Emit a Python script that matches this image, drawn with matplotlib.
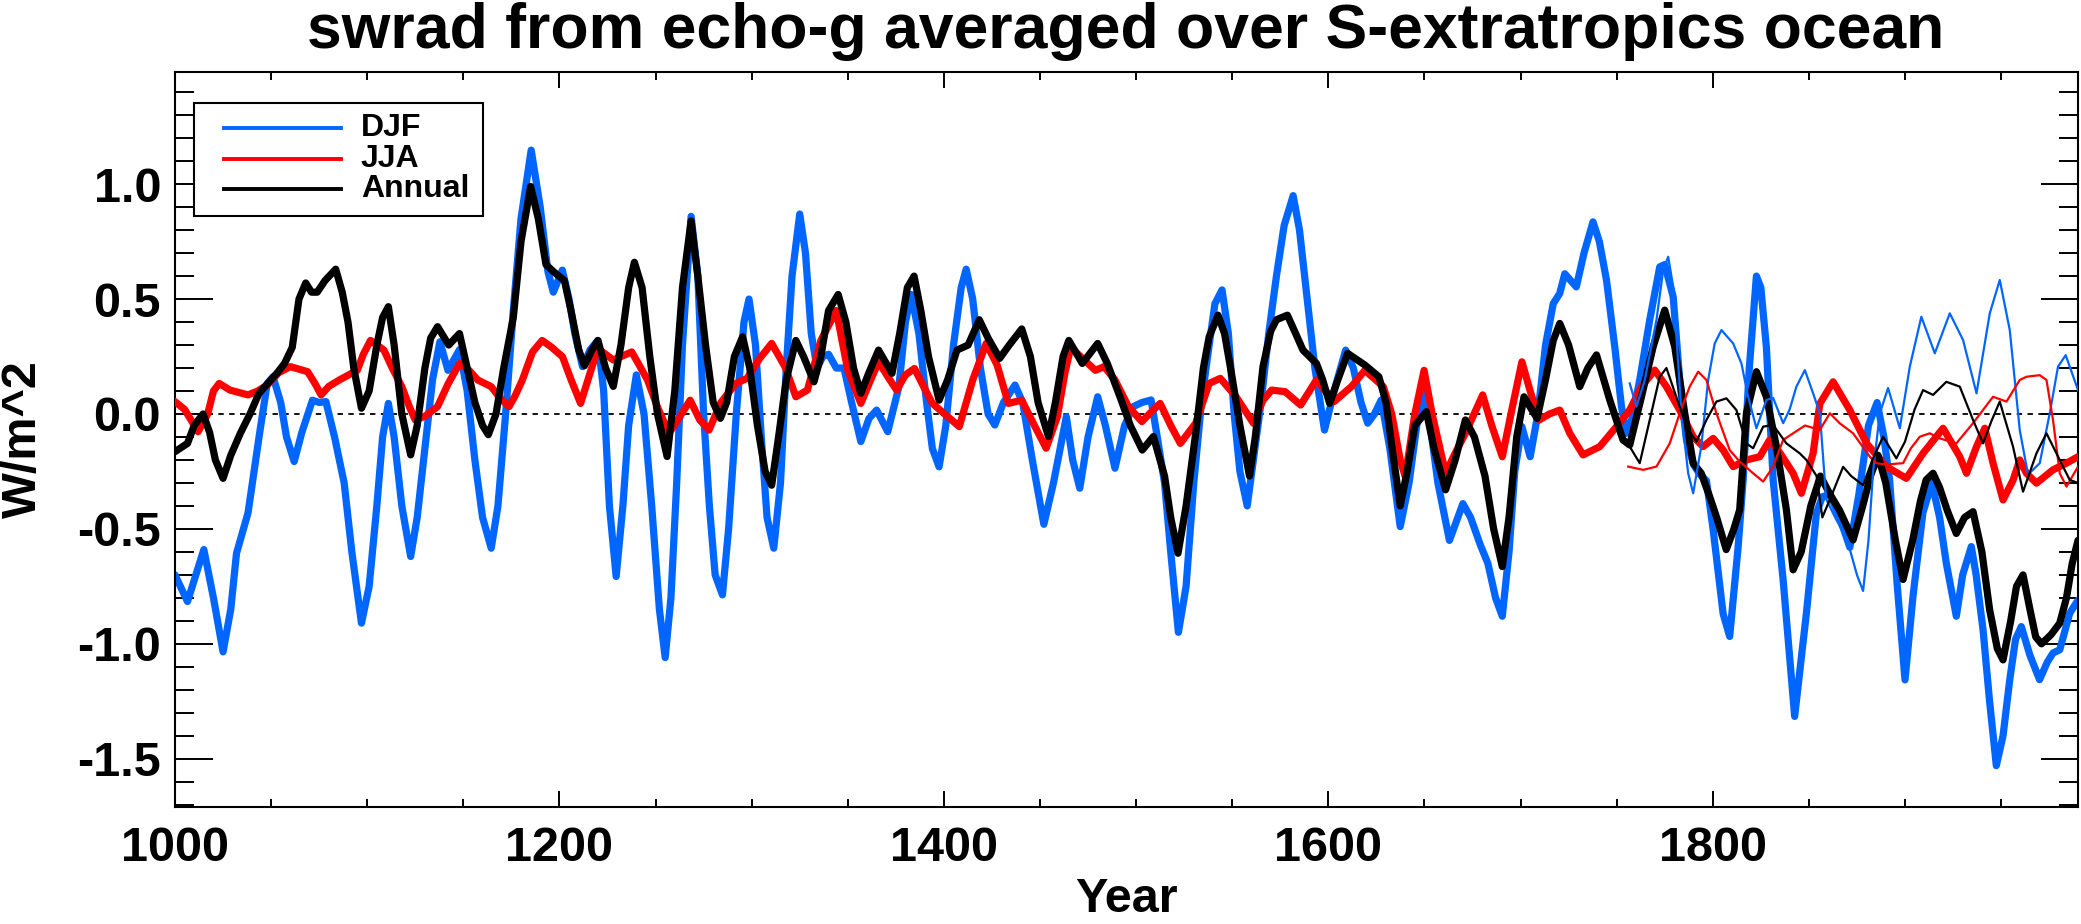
import numpy as np
import matplotlib
matplotlib.use('Agg')
import matplotlib.pyplot as plt
from matplotlib.ticker import MultipleLocator, FormatStrFormatter
from matplotlib.patches import Rectangle

plt.rcParams['font.family'] = ['Liberation Sans', 'DejaVu Sans']
plt.rcParams['font.weight'] = 'bold'

# thick curves: full run 1000-1990
djf_years = [1000, 1006.5, 1015, 1020, 1025, 1029, 1032, 1038, 1044, 1048, 1051, 1055, 1058, 1062, 1066, 1071.5, 1075, 1078.5, 1083, 1088, 1092, 1097, 1101, 1105, 1108, 1111, 1114, 1118, 1122.6, 1126, 1130, 1134, 1137.8, 1142, 1148, 1152, 1156, 1160, 1164.5, 1168, 1172, 1176, 1180, 1185.3, 1190, 1194, 1196.8, 1201.5, 1205, 1208, 1212, 1216, 1220, 1223, 1226, 1229.5, 1233, 1236, 1240, 1244, 1248, 1252, 1255, 1258, 1261, 1264, 1268.5, 1272, 1275, 1278, 1281, 1284.8, 1288, 1292, 1296, 1298.6, 1302, 1305, 1308, 1311.5, 1315, 1318, 1321, 1325, 1328, 1331, 1334, 1337, 1340, 1344, 1348, 1352, 1356.8, 1361, 1365, 1370.8, 1376.6, 1380, 1383, 1387, 1391, 1394, 1397.5, 1401, 1405, 1409, 1411.6, 1415, 1419, 1423, 1426.5, 1431, 1437, 1441, 1446, 1452, 1457, 1463.7, 1467, 1470.7, 1475, 1480, 1484, 1489, 1494, 1498.5, 1503, 1507.8, 1511, 1514.8, 1518, 1522, 1526, 1530, 1534, 1538, 1541, 1544.7, 1548, 1551, 1554, 1557.8, 1561, 1565, 1569, 1573, 1577, 1581.7, 1585, 1589, 1593, 1598, 1603, 1609, 1613, 1617, 1620.5, 1624, 1627.5, 1632, 1637.4, 1642, 1646, 1649.8, 1653, 1657, 1663, 1670, 1674, 1679, 1683, 1687, 1690.5, 1694, 1697, 1700.7, 1705, 1709, 1713, 1717, 1720.4, 1723, 1729, 1733, 1737.7, 1741, 1744.7, 1749, 1752.5, 1755, 1758, 1762, 1767.2, 1772.4, 1775, 1779.4, 1782.8, 1786.3, 1790, 1793, 1796.7, 1800.2, 1805.4, 1808.8, 1813.2, 1815.8, 1819, 1822.7, 1825, 1827.9, 1831.4, 1836.6, 1842.6, 1848.7, 1853.9, 1857, 1861, 1866, 1871.3, 1876, 1881, 1885.5, 1889, 1892, 1896, 1900, 1904.2, 1909.3, 1914, 1918, 1921.5, 1926.7, 1930, 1934.5, 1937, 1940.6, 1944, 1947.5, 1951, 1954.5, 1957.5, 1960.5, 1965, 1970, 1974, 1977, 1980.5, 1983, 1985.7, 1990]
djf_vals = [-0.70, -0.816, -0.59, -0.80, -1.035, -0.85, -0.606, -0.43, -0.084, 0.133, 0.162, 0.05, -0.10, -0.207, -0.08, 0.06, 0.05, 0.054, -0.10, -0.30, -0.60, -0.91, -0.75, -0.40, -0.10, 0.046, -0.10, -0.40, -0.62, -0.45, -0.15, 0.15, 0.314, 0.19, 0.28, 0.10, -0.20, -0.45, -0.584, -0.40, 0.00, 0.45, 0.85, 1.148, 0.90, 0.62, 0.53, 0.626, 0.50, 0.35, 0.206, 0.28, 0.32, 0.10, -0.40, -0.707, -0.40, -0.05, 0.17, 0.00, -0.40, -0.85, -1.06, -0.80, -0.30, 0.30, 0.86, 0.60, 0.00, -0.40, -0.70, -0.787, -0.50, 0.00, 0.40, 0.50, 0.30, -0.10, -0.45, -0.584, -0.30, 0.20, 0.60, 0.87, 0.70, 0.35, 0.20, 0.25, 0.26, 0.20, 0.20, 0.05, -0.12, -0.02, 0.017, -0.077, 0.119, 0.40, 0.52, 0.35, 0.05, -0.15, -0.23, -0.05, 0.30, 0.55, 0.63, 0.50, 0.20, 0.00, -0.048, 0.05, 0.126, 0.05, -0.20, -0.48, -0.30, -0.012, -0.20, -0.323, -0.10, 0.075, -0.05, -0.236, -0.05, 0.032, 0.05, 0.061, -0.10, -0.30, -0.60, -0.95, -0.75, -0.30, 0.05, 0.30, 0.48, 0.54, 0.35, 0.00, -0.25, -0.40, -0.20, 0.05, 0.35, 0.60, 0.82, 0.95, 0.80, 0.50, 0.20, -0.07, 0.10, 0.278, 0.20, 0.05, -0.04, 0.00, 0.061, -0.15, -0.49, -0.30, -0.05, 0.104, -0.05, -0.30, -0.55, -0.39, -0.45, -0.568, -0.65, -0.80, -0.88, -0.60, -0.25, -0.055, -0.186, 0.00, 0.30, 0.48, 0.525, 0.61, 0.553, 0.70, 0.836, 0.75, 0.583, 0.293, 0.032, -0.084, -0.02, 0.148, 0.409, 0.64, 0.65, 0.51, 0.148, -0.113, -0.22, -0.26, -0.29, -0.504, -0.87, -0.968, -0.577, -0.287, 0.20, 0.60, 0.55, 0.29, -0.287, -0.722, -1.316, -0.867, -0.432, -0.36, -0.35, -0.45, -0.58, -0.35, -0.05, 0.05, -0.10, -0.287, -0.75, -1.157, -0.79, -0.43, -0.30, -0.45, -0.65, -0.88, -0.70, -0.577, -0.70, -0.939, -1.25, -1.53, -1.40, -1.156, -0.98, -0.925, -1.05, -1.156, -1.08, -1.04, -1.026, -0.95, -0.867, -0.81]

jja_years = [1000, 1005, 1012, 1017, 1020, 1023, 1028.6, 1038, 1043, 1048, 1054, 1060, 1069, 1073, 1076, 1080, 1085.5, 1094.8, 1098, 1101.7, 1108.7, 1113, 1118, 1122, 1125, 1130, 1136.6, 1142, 1148, 1153, 1157.5, 1164.5, 1169, 1173.8, 1177, 1180.7, 1186, 1191, 1196, 1201.6, 1206, 1211, 1216, 1220, 1228, 1237.6, 1241, 1245.8, 1251, 1257, 1262, 1268, 1273, 1277.8, 1284, 1291.8, 1297.6, 1304, 1310.4, 1317.3, 1323, 1329, 1336, 1344, 1350, 1356.8, 1362, 1366, 1371, 1375.4, 1380, 1384.7, 1390, 1394, 1402, 1408, 1415, 1422, 1427.7, 1433.5, 1440.5, 1447.4, 1453.2, 1459, 1463, 1466, 1473, 1478.8, 1483.4, 1489, 1496, 1503, 1508, 1512.5, 1518, 1523, 1531, 1538, 1543.8, 1552, 1561, 1566, 1570.5, 1577.5, 1585.6, 1593.8, 1603, 1612, 1619, 1628.6, 1633, 1637.4, 1640, 1645, 1649.8, 1654, 1661, 1666, 1671.3, 1680.3, 1685, 1690.5, 1695, 1700.7, 1705, 1709.7, 1715, 1720.4, 1725.6, 1732.5, 1741.2, 1749.9, 1756.8, 1762.9, 1769.8, 1775.9, 1782.8, 1789.8, 1795, 1800.2, 1805.4, 1810.6, 1817.5, 1824.4, 1829.6, 1835, 1841.8, 1846.1, 1852.2, 1855.7, 1862.6, 1871.3, 1880, 1890.3, 1900.7, 1909.4, 1919.8, 1928.5, 1932, 1937.2, 1941.5, 1945.8, 1951, 1956.2, 1959.7, 1963.2, 1968.4, 1977, 1984, 1990]
jja_vals = [0.054, 0.02, -0.077, 0.00, 0.10, 0.133, 0.104, 0.083, 0.10, 0.126, 0.18, 0.206, 0.184, 0.13, 0.083, 0.12, 0.148, 0.19, 0.26, 0.32, 0.278, 0.20, 0.119, 0.03, -0.026, -0.01, 0.032, 0.13, 0.22, 0.19, 0.148, 0.119, 0.07, 0.032, 0.08, 0.148, 0.27, 0.32, 0.29, 0.249, 0.15, 0.046, 0.18, 0.285, 0.235, 0.27, 0.22, 0.148, 0.03, -0.084, -0.02, 0.06, -0.026, -0.07, 0.05, 0.133, 0.155, 0.24, 0.307, 0.206, 0.075, 0.104, 0.32, 0.45, 0.19, 0.046, 0.15, 0.227, 0.16, 0.104, 0.17, 0.198, 0.11, 0.046, -0.012, -0.055, 0.148, 0.307, 0.213, 0.046, 0.06, -0.055, -0.149, -0.012, 0.18, 0.29, 0.235, 0.19, 0.206, 0.148, 0.032, -0.033, 0.01, 0.046, -0.05, -0.128, -0.04, 0.133, 0.155, 0.075, -0.04, 0.06, 0.104, 0.097, 0.039, 0.148, 0.054, 0.119, 0.19, 0.119, 0.00, -0.20, -0.272, 0.00, 0.19, 0.00, -0.258, -0.17, -0.084, 0.083, -0.05, -0.186, 0.00, 0.227, 0.10, -0.026, 0.00, 0.017, -0.084, -0.178, -0.142, -0.055, 0.017, 0.119, 0.191, 0.119, 0.017, -0.099, -0.142, -0.106, -0.157, -0.229, -0.20, -0.186, -0.113, -0.17, -0.258, -0.345, -0.171, 0.045, 0.14, 0.017, -0.128, -0.229, -0.28, -0.171, -0.062, -0.186, -0.258, -0.142, -0.062, -0.214, -0.374, -0.288, -0.20, -0.258, -0.301, -0.243, -0.214, -0.186]

ann_years = [1000, 1006.5, 1010, 1014.6, 1018, 1021, 1025, 1029, 1034, 1039, 1043.7, 1048, 1053, 1057, 1061, 1064.5, 1068, 1071, 1074, 1078, 1083.6, 1087, 1090, 1093, 1097, 1101, 1105, 1108, 1111, 1114, 1118, 1122.6, 1126, 1130, 1133, 1136.6, 1142.4, 1148, 1152, 1156, 1160, 1163, 1167, 1171, 1176, 1180, 1185, 1189, 1193, 1196.8, 1202.6, 1206, 1210, 1213, 1217, 1220, 1224, 1228, 1232, 1236, 1239, 1243, 1247, 1251, 1256, 1260, 1264, 1268.5, 1272, 1276, 1280, 1283.7, 1287, 1291, 1295.3, 1299, 1303, 1307, 1310.4, 1314, 1318, 1323, 1327, 1332.4, 1336, 1340, 1345, 1349, 1353, 1356.8, 1361, 1366, 1370, 1373, 1377, 1381, 1384.5, 1388, 1392, 1397.5, 1402, 1406.8, 1412.6, 1418.4, 1423, 1429, 1434, 1440.5, 1445, 1449, 1454.4, 1458, 1462, 1465, 1472, 1480, 1485, 1491.6, 1497, 1503.2, 1509, 1514.8, 1518, 1521.8, 1526, 1531, 1535, 1538, 1542.6, 1546, 1549.6, 1554, 1559, 1562, 1566, 1570, 1573, 1578.7, 1583, 1586.8, 1593.8, 1597, 1600.7, 1605, 1610, 1619, 1626.3, 1630, 1633.3, 1637.4, 1641, 1645, 1651, 1655, 1661, 1666, 1671.3, 1676, 1681.5, 1686, 1690.5, 1694, 1698, 1701.8, 1705, 1708.6, 1713, 1717, 1720.4, 1725, 1730.8, 1735, 1739.5, 1746.4, 1753.3, 1756.8, 1762.9, 1769, 1775, 1780.2, 1785.4, 1789.8, 1794, 1798.4, 1802, 1807, 1811, 1814, 1817.5, 1822.7, 1827.9, 1833.1, 1838.3, 1841.8, 1846, 1851, 1856, 1861, 1866, 1873, 1878, 1882, 1886, 1890, 1895, 1899, 1904, 1908, 1911, 1914.6, 1918, 1922, 1926.7, 1931, 1935.4, 1940, 1944, 1948, 1951, 1955, 1958, 1961.4, 1965, 1968, 1971, 1976, 1980.5, 1984, 1987, 1990]
ann_vals = [-0.164, -0.128, -0.05, 0.00, -0.08, -0.20, -0.28, -0.18, -0.084, 0.00, 0.09, 0.13, 0.177, 0.22, 0.29, 0.50, 0.57, 0.53, 0.53, 0.58, 0.63, 0.53, 0.40, 0.20, 0.025, 0.10, 0.30, 0.42, 0.467, 0.30, 0.00, -0.178, -0.05, 0.20, 0.33, 0.38, 0.30, 0.35, 0.20, 0.05, -0.05, -0.09, 0.00, 0.20, 0.42, 0.75, 0.99, 0.85, 0.65, 0.62, 0.58, 0.45, 0.28, 0.21, 0.28, 0.32, 0.20, 0.12, 0.30, 0.55, 0.66, 0.55, 0.25, 0.00, -0.185, 0.10, 0.55, 0.84, 0.60, 0.30, 0.05, -0.019, 0.05, 0.25, 0.336, 0.20, -0.05, -0.25, -0.31, -0.10, 0.15, 0.32, 0.25, 0.14, 0.25, 0.45, 0.52, 0.40, 0.20, 0.09, 0.18, 0.278, 0.22, 0.177, 0.35, 0.55, 0.60, 0.45, 0.25, 0.06, 0.15, 0.278, 0.30, 0.41, 0.33, 0.242, 0.30, 0.37, 0.25, 0.05, -0.098, 0.05, 0.25, 0.32, 0.22, 0.307, 0.22, 0.075, -0.05, -0.157, -0.098, -0.27, -0.45, -0.606, -0.40, -0.084, 0.20, 0.336, 0.43, 0.35, 0.177, -0.05, -0.27, -0.10, 0.206, 0.36, 0.41, 0.43, 0.35, 0.278, 0.22, 0.15, 0.046, 0.15, 0.264, 0.213, 0.162, 0.05, -0.157, -0.40, -0.25, -0.05, 0.01, -0.15, -0.33, -0.20, -0.026, -0.10, -0.27, -0.50, -0.664, -0.45, -0.10, 0.075, 0.03, -0.019, 0.15, 0.32, 0.394, 0.30, 0.119, 0.20, 0.257, 0.061, -0.113, -0.135, 0.075, 0.293, 0.452, 0.293, 0.003, -0.214, -0.258, -0.36, -0.45, -0.59, -0.50, -0.417, 0.003, 0.184, 0.075, -0.142, -0.417, -0.678, -0.60, -0.40, -0.27, -0.35, -0.42, -0.548, -0.40, -0.27, -0.18, -0.30, -0.55, -0.72, -0.55, -0.38, -0.287, -0.258, -0.32, -0.42, -0.52, -0.45, -0.425, -0.60, -0.85, -1.02, -1.07, -0.90, -0.75, -0.70, -0.85, -0.97, -1.00, -0.96, -0.91, -0.80, -0.65, -0.55]

# thin curves: second dataset from ~1756
djf2_years = [1756.8, 1760.3, 1764.6, 1770.7, 1774.2, 1776.8, 1779.4, 1783.7, 1787.2, 1789.8, 1794, 1797.6, 1801, 1804.5, 1810.6, 1814.9, 1818.4, 1822.7, 1827.9, 1831.4, 1836.6, 1840, 1843.5, 1847.9, 1852.2, 1855.7, 1859, 1863.4, 1870, 1875, 1878.2, 1881, 1883.4, 1886.9, 1891.2, 1897.3, 1902.5, 1908.5, 1915.5, 1923.3, 1930.2, 1937.2, 1944.1, 1949.3, 1954.5, 1959.7, 1964, 1970.1, 1975.3, 1979.6, 1983.6, 1990]
djf2_vals = [0.133, 0.032, 0.148, 0.409, 0.626, 0.684, 0.553, 0.003, -0.258, -0.345, -0.142, 0.148, 0.307, 0.365, 0.307, 0.22, 0.075, -0.062, 0.061, 0.07, -0.04, 0.02, 0.119, 0.191, 0.09, 0.003, -0.37, -0.446, -0.55, -0.70, -0.77, -0.55, -0.25, 0.003, 0.113, -0.062, 0.206, 0.423, 0.264, 0.438, 0.322, 0.09, 0.438, 0.583, 0.365, -0.07, -0.264, -0.214, 0.003, 0.206, 0.256, 0.104]

jja2_years = [1756, 1763.8, 1770.7, 1777.6, 1782.8, 1788, 1792.4, 1796.7, 1801.9, 1808.8, 1814, 1821, 1826.2, 1831.4, 1836.6, 1841.8, 1848, 1855.65, 1860.9, 1866, 1873, 1881.7, 1885.1, 1890, 1899, 1903, 1907.7, 1912.9, 1918, 1926.7, 1935.4, 1945.8, 1952.8, 1959.7, 1963.2, 1970.1, 1973.6, 1977, 1980.5, 1984, 1990]
jja2_vals = [-0.229, -0.243, -0.229, -0.128, 0.003, 0.119, 0.184, 0.148, 0.003, -0.157, -0.207, -0.258, -0.294, -0.229, -0.113, -0.084, -0.05, -0.07, 0.003, -0.04, -0.084, -0.186, -0.214, -0.22, -0.214, -0.15, -0.099, -0.084, -0.106, -0.128, -0.04, 0.075, 0.054, 0.148, 0.162, 0.169, 0.148, -0.026, -0.258, -0.316, -0.229]

ann2_years = [1756.8, 1762, 1767.2, 1772.4, 1775.9, 1781, 1786.3, 1791.5, 1796.7, 1801.9, 1807.1, 1812.3, 1817.5, 1821, 1826.2, 1831.4, 1838.3, 1845.2, 1848.7, 1854, 1857, 1862, 1867.8, 1872, 1878.2, 1883, 1888.6, 1895.5, 1900, 1905, 1909.4, 1914.6, 1921.5, 1928.5, 1935.4, 1940.6, 1945, 1949.3, 1956.2, 1961.4, 1968.4, 1973.6, 1980.5, 1985.7, 1990]
ann2_vals = [-0.142, -0.214, -0.026, 0.162, 0.20, 0.075, -0.055, -0.12, -0.026, 0.054, 0.068, 0.017, -0.128, -0.149, -0.055, -0.048, -0.128, -0.171, -0.20, -0.27, -0.45, -0.35, -0.23, -0.27, -0.31, -0.20, -0.099, -0.193, -0.12, 0.02, 0.104, 0.083, 0.14, 0.119, -0.026, -0.128, -0.03, 0.054, -0.142, -0.338, -0.171, -0.084, -0.20, -0.287, -0.30]

labels = ['DJF', 'JJA', 'Annual']
colors = ['#0066FF', '#FF0000', '#000000']

fig = plt.figure(figsize=(20.81, 9.24), dpi=100)
ax = fig.add_axes([175/2081, 117/924, 1903/2081, 735/924])

ax.axhline(0, color='black', lw=1.3, ls=(0, (3, 3)), zorder=1)

thick = dict(lw=5.2, solid_joinstyle='round', solid_capstyle='round')
thin = dict(lw=1.6, solid_joinstyle='round')
ax.plot(djf_years, djf_vals, color=colors[0], zorder=2, **thick)
ax.plot(jja_years, jja_vals, color=colors[1], zorder=3, **thick)
ax.plot(ann_years, ann_vals, color=colors[2], zorder=4, **thick)
ax.plot(djf2_years, djf2_vals, color=colors[0], zorder=5, **thin)
ax.plot(jja2_years, jja2_vals, color=colors[1], zorder=5, **thin)
ax.plot(ann2_years, ann2_vals, color=colors[2], zorder=5, **thin)

ax.set_xlim(1000, 1990)
ax.set_ylim(-1.71, 1.488)

ax.xaxis.set_major_locator(MultipleLocator(200))
ax.xaxis.set_minor_locator(MultipleLocator(50))
ax.yaxis.set_major_locator(MultipleLocator(0.5))
ax.yaxis.set_minor_locator(MultipleLocator(0.1))
ax.yaxis.set_major_formatter(FormatStrFormatter('%.1f'))

ax.tick_params(axis='x', which='major', direction='in', length=11.5, width=1.4,
               top=True, bottom=True, labelsize=35, pad=14)
ax.tick_params(axis='x', which='minor', direction='in', length=5.8, width=1.4,
               top=True, bottom=True)
ax.tick_params(axis='y', which='major', direction='in', length=27, width=1.4,
               left=True, right=True, labelsize=35, pad=10)
ax.tick_params(axis='y', which='minor', direction='in', length=13.7, width=1.4,
               left=True, right=True)
for s in ax.spines.values():
    s.set_linewidth(1.5)

ax.set_xlabel('Year', fontsize=35, fontweight='bold')
ax.xaxis.set_label_coords(0.5, -0.095)
ax.set_ylabel('W/m^2', fontsize=35, fontweight='bold')
ax.yaxis.set_label_coords(-0.068, 0.5)

fig.text(1126/2081, 1 - 48/924, 'swrad from echo-g averaged over S-extratropics ocean',
         ha='center', va='baseline', fontsize=45, fontweight='bold')

# legend box drawn by hand to match the IDL layout
ax.add_patch(Rectangle((0.00998, 0.804), 0.1518, 0.1538, transform=ax.transAxes,
                       facecolor='white', edgecolor='black', lw=1.5, zorder=10))
rows = [0.924, 0.882, 0.841]
for lab, col, yy in zip(labels, colors, rows):
    ax.plot([0.0257, 0.0872], [yy, yy], transform=ax.transAxes, color=col, lw=2.8, zorder=11)
    ax.text(0.0977, yy, lab, transform=ax.transAxes, va='center', ha='left',
            fontsize=23, fontweight='bold', zorder=11)

fig.savefig('out.png', dpi=100)
